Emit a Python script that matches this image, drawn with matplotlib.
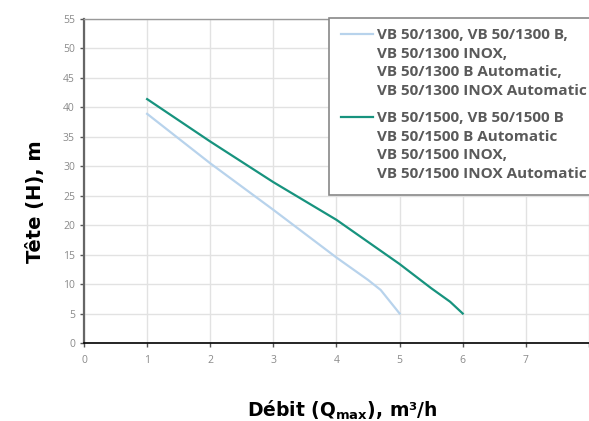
import matplotlib.pyplot as plt
from matplotlib.lines import Line2D
from matplotlib.patches import Rectangle
import numpy as np

plt.rcParams['font.family'] = ['Open Sans', 'DejaVu Sans']

# Débit (m3/h) vs Tête (m)
q_1300 = [1.0, 2.0, 3.0, 4.0, 4.5, 4.7, 5.0]
h_1300 = [38.9, 30.5, 22.6, 14.5, 10.7, 9.0, 5.0]
q_1500 = [1.0, 2.0, 3.0, 4.0, 5.0, 5.5, 5.8, 6.0]
h_1500 = [41.4, 34.2, 27.3, 20.9, 13.4, 9.3, 7.0, 5.0]

labels_1300 = ['VB 50/1300, VB 50/1300 B,', 'VB 50/1300 INOX,',
               'VB 50/1300 B Automatic,', 'VB 50/1300 INOX Automatic']
labels_1500 = ['VB 50/1500, VB 50/1500 B', 'VB 50/1500 B Automatic',
               'VB 50/1500 INOX,', 'VB 50/1500 INOX Automatic']

BLUE = '#b8d3ec'
GREEN = '#17937e'
TICKGRAY = '#8a8a8a'
W, H = 589, 421


def fpx(x, y):
    # pixel position -> figure fraction
    return x / W, 1 - y / H


fig = plt.figure(figsize=(5.89, 4.21), dpi=100)
ax = fig.add_axes([0.1426, 0.1853, 0.8574, 0.7696])

l1, = ax.plot(q_1300, h_1300, color=BLUE, lw=1.6)
l2, = ax.plot(q_1500, h_1500, color=GREEN, lw=1.6)

ax.set_xlim(0, 8)
ax.set_ylim(0, 55)
ax.set_xticks(np.arange(0, 9, 1))
ax.set_yticks(np.arange(0, 56, 5))
ax.set_xticklabels([str(i) for i in range(8)] + [''])
ax.grid(True, color='#e2e2e2', lw=1.0)
ax.set_axisbelow(True)

ax.spines['left'].set_color('#666666')
ax.spines['left'].set_linewidth(1.6)
ax.spines['bottom'].set_color('black')
ax.spines['bottom'].set_linewidth(1.2)
ax.spines['top'].set_color('#999999')
ax.spines['top'].set_linewidth(1.0)
ax.spines['right'].set_visible(False)

ax.tick_params(axis='both', labelsize=7.5, labelcolor=TICKGRAY, length=3,
               width=1, color='#555555')
ax.tick_params(axis='x', pad=6)

fig.text(*fpx(35, 202), 'Tête (H), m', fontsize=14, fontweight='bold',
         family='DejaVu Sans', rotation=90, ha='center', va='center')
fig.text(*fpx(342, 410), 'Débit (Q$_{\\mathbf{max}}$), m³/h', fontsize=13.5,
         fontweight='bold', family='DejaVu Sans', ha='center', va='center')

# legend frame
x0, y0 = fpx(329, 195)
x1, y1 = fpx(600, 18)
fig.patches.append(Rectangle((x0, y0), x1 - x0, y1 - y0,
                             transform=fig.transFigure, facecolor='white',
                             edgecolor='#888888', lw=1.2, zorder=3))

blank = Line2D([], [], color='none')
legs = []
for line, labels, ytop in [(l1, labels_1300, 28), (l2, labels_1500, 111)]:
    leg = fig.legend([line, blank, blank, blank], labels, loc='upper left',
                     bbox_to_anchor=fpx(341, ytop),
                     bbox_transform=fig.transFigure, fontsize=11,
                     frameon=False, handlelength=2.1, handletextpad=0.25,
                     borderpad=0, borderaxespad=0, labelspacing=0.3)
    leg.set_zorder(4)
    for t in leg.get_texts():
        t.set_color('#5a5a5a')
        t.set_fontweight('bold')
    legs.append(leg)

plt.savefig('out.png', dpi=100)
plt.close()
